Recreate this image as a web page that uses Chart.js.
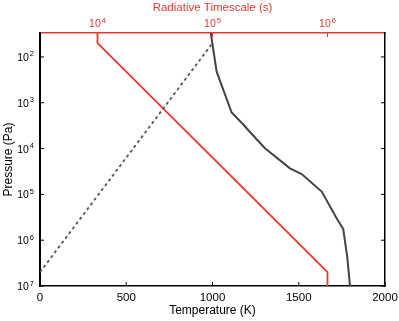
<!DOCTYPE html>
<html>
<head>
<meta charset="utf-8">
<script src="https://cdn.jsdelivr.net/npm/chart.js@4"></script>
<style>
  html, body { margin: 0; padding: 0; background: #fff; }
  #wrap { width: 399px; height: 321px; }
</style>
</head>
<body>
<div id="wrap"><canvas id="profileChart"></canvas></div>
<script>
// temperature profile (K vs Pa)
const profileTemp = [990, 1024, 1111, 1177, 1217, 1304, 1449, 1517, 1633, 1723, 1758, 1781, 1797];
const profilePres = [30, 210, 1630, 2950, 4350, 9800, 27000, 36000, 87000, 350000, 570000, 2300000, 1e7];

// dashed reference line (K vs Pa)
const dashTemp = [0, 1000];
const dashPres = [5e6, 50];

// radiative timescale (s vs Pa), top axis
const tauVals = [1e4, 1e4, 1e6, 1e6];
const tauPres = [30, 50, 5e6, 1e7];

const tempTicks = [0, 500, 1000, 1500, 2000];
const presTicks = [1e2, 1e3, 1e4, 1e5, 1e6, 1e7];
const tauTicks = [1e4, 1e5, 1e6];

const RED = '#e8392f';
const FONT = "'Liberation Sans', Arial, Helvetica, sans-serif";

function pts(xs, ys) {
    return xs.map((x, i) => ({ x: x, y: ys[i] }));
}

// draws "10" with a raised exponent; align: 'center' or 'right'
function drawPow(ctx, v, x, y, align) {
    const e = String(Math.round(Math.log10(v)));
    ctx.font = '10.5px ' + FONT;
    const wb = ctx.measureText('10').width;
    ctx.font = '7.5px ' + FONT;
    const we = ctx.measureText(e).width;
    const w = wb + 1 + we;
    const x0 = align === 'right' ? x - w : x - w / 2;
    ctx.textAlign = 'left';
    ctx.textBaseline = 'alphabetic';
    ctx.font = '10.5px ' + FONT;
    ctx.fillText('10', x0, y + 4);
    ctx.font = '7.5px ' + FONT;
    ctx.fillText(e, x0 + wb + 1, y - 0.5);
}

// small inward ticks and tick labels, like the original
const axisDecor = {
    id: 'axisDecor',
    afterDatasetsDraw(chart) {
        const { ctx, chartArea: a, scales } = chart;
        const len = 4;
        ctx.save();
        ctx.lineWidth = 1;
        ctx.strokeStyle = '#000';
        ctx.beginPath();
        tempTicks.forEach(v => {
            const x = scales.x.getPixelForValue(v);
            ctx.moveTo(x, a.bottom); ctx.lineTo(x, a.bottom - len);
        });
        presTicks.forEach(v => {
            const y = scales.y.getPixelForValue(v);
            ctx.moveTo(a.left, y); ctx.lineTo(a.left + len, y);
            ctx.moveTo(a.right, y); ctx.lineTo(a.right - len, y);
        });
        ctx.stroke();
        ctx.strokeStyle = RED;
        ctx.beginPath();
        tauTicks.forEach(v => {
            const x = scales.x2.getPixelForValue(v);
            ctx.moveTo(x, a.top); ctx.lineTo(x, a.top + len);
        });
        ctx.stroke();

        // labels
        ctx.fillStyle = '#000';
        ctx.font = '11.5px ' + FONT;
        ctx.textAlign = 'center';
        ctx.textBaseline = 'middle';
        tempTicks.forEach(v => {
            ctx.fillText(String(v), scales.x.getPixelForValue(v), a.bottom + 12);
        });
        presTicks.forEach(v => {
            drawPow(ctx, v, a.left - 6, scales.y.getPixelForValue(v), 'right');
        });
        ctx.fillStyle = RED;
        tauTicks.forEach(v => {
            drawPow(ctx, v, scales.x2.getPixelForValue(v), a.top - 10, 'center');
        });
        ctx.restore();
    }
};

new Chart(document.getElementById('profileChart'), {
    type: 'scatter',
    data: {
        datasets: [
            {
                data: pts(dashTemp, dashPres),
                xAxisID: 'x', yAxisID: 'y',
                showLine: true, borderColor: '#555', borderWidth: 1.8,
                borderDash: [3, 3], pointRadius: 0
            },
            {
                data: pts(tauVals, tauPres),
                xAxisID: 'x2', yAxisID: 'y',
                showLine: true, borderColor: RED, borderWidth: 1.8,
                pointRadius: 0
            },
            {
                data: pts(profileTemp, profilePres),
                xAxisID: 'x', yAxisID: 'y',
                showLine: true, borderColor: '#444', borderWidth: 2,
                pointRadius: 0
            }
        ]
    },
    options: {
        responsive: true,
        maintainAspectRatio: false,
        animation: false,
        layout: { padding: 0 },
        plugins: { legend: { display: false }, tooltip: { enabled: false } },
        scales: {
            x: {
                type: 'linear', position: 'bottom', min: 0, max: 2000,
                afterBuildTicks: s => { s.ticks = tempTicks.map(v => ({ value: v })); },
                afterFit: s => { s.height = 35; },
                grid: { display: false },
                border: { color: '#000', width: 1.5 },
                ticks: { display: false },
                title: { display: true, text: 'Temperature (K)', color: '#000', font: { family: FONT, size: 12 }, padding: { top: 0, bottom: 3 } }
            },
            x2: {
                type: 'logarithmic', position: 'top', min: Math.pow(10, 3.5), max: Math.pow(10, 6.5),
                afterBuildTicks: s => { s.ticks = tauTicks.map(v => ({ value: v })); },
                afterFit: s => { s.height = 33; },
                grid: { display: false },
                border: { color: RED, width: 1.5 },
                ticks: { display: false },
                title: { display: true, text: 'Radiative Timescale (s)', color: RED, font: { family: FONT, size: 11.5 }, padding: { top: 1, bottom: 0 } }
            },
            y: {
                type: 'logarithmic', position: 'left', reverse: true, min: 30, max: 1e7,
                afterBuildTicks: s => { s.ticks = presTicks.map(v => ({ value: v })); },
                afterFit: s => { s.width = 40; },
                grid: { display: false },
                border: { color: '#000', width: 2 },
                ticks: { display: false },
                title: { display: true, text: 'Pressure (Pa)', color: '#000', font: { family: FONT, size: 12 }, padding: { top: 1, bottom: 0 } }
            },
            y2: {
                type: 'logarithmic', position: 'right', reverse: true, min: 30, max: 1e7,
                afterBuildTicks: s => { s.ticks = presTicks.map(v => ({ value: v })); },
                afterFit: s => { s.width = 14; },
                grid: { display: false },
                border: { color: '#000', width: 1.5 },
                ticks: { display: false }
            }
        }
    },
    plugins: [axisDecor]
});
</script>
</body>
</html>
